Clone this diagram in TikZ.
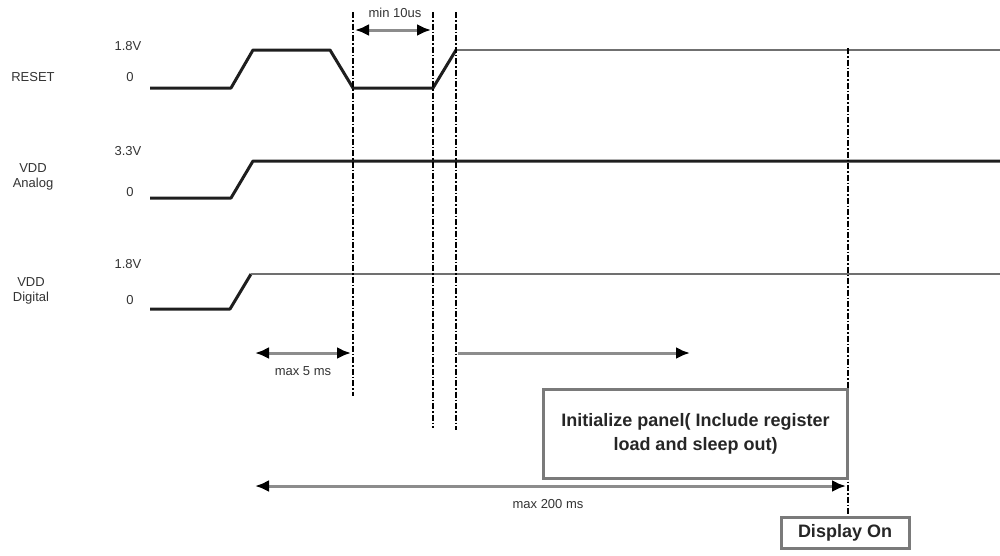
\documentclass[tikz,border=0pt]{standalone}
\usepackage{fontspec}
\setmainfont{Liberation Sans}
\usetikzlibrary{arrows.meta}
\definecolor{wave}{HTML}{1E1E1E}
\definecolor{gline}{HTML}{8C8C8C}
\definecolor{bord}{HTML}{7A7A7A}
\tikzset{
  wavel/.style={draw=wave,line width=3pt,line join=round},
  waveg/.style={draw=gline!80!black,line width=2.2pt},
  vguide/.style={draw=black,line width=1.1pt,dash pattern=on 6pt off 2pt on 1.5pt off 2pt},
  lbl/.style={font=\fontsize{13}{13}\selectfont,text=black!80,inner sep=0pt},
  tipd/.style={-{Latex[color=black,length=14pt,width=12pt]}},
  tipdd/.style={{Latex[color=black,length=14pt,width=12pt]}-{Latex[color=black,length=14pt,width=12pt]}},
  meas/.style={draw=gline,line width=3pt},
  panelbox/.style={draw=bord,line width=3pt,fill=white,inner sep=0pt,
    font=\bfseries\fontsize{18}{24}\selectfont,align=center,text=black!85},
}
\begin{document}
\begin{tikzpicture}[x=1pt,y=-1pt]
\useasboundingbox (0,0) rectangle (1000,555);

% signal names
\node[lbl] (nreset) at (33,77) {RESET};
\node[lbl,align=center] (nana) at (33,177) {VDD\\[2pt]Analog};
\node[lbl,align=center] (ndig) at (31,291) {VDD\\[2pt]Digital};
% levels
\node[lbl] (v1h) at (128,46) {1.8V};
\node[lbl] (v1l) at (130,77) {0};
\node[lbl] (v2h) at (128,151) {3.3V};
\node[lbl] (v2l) at (130,192) {0};
\node[lbl] (v3h) at (128,264) {1.8V};
\node[lbl] (v3l) at (130,300) {0};

% waveforms
\draw[wavel] (150,88) -- (231,88) -- (253,50) -- (330,50) -- (353,88) -- (433,88) -- (456,50);
\draw[waveg] (456,50) -- (1000,50);
\draw[wavel] (150,198) -- (231,198) -- (253,161) -- (1000,161);
\draw[wavel] (150,309) -- (230,309) -- (251,274);
\draw[waveg] (251,274) -- (1000,274);

% guide lines
\coordinate (g1t) at (353,12); \coordinate (g1b) at (353,396);
\coordinate (g2t) at (433,12); \coordinate (g2b) at (433,428);
\coordinate (g3t) at (456,12); \coordinate (g3b) at (456,430);
\coordinate (g4t) at (848,48); \coordinate (g4b) at (848,517);
\draw[vguide] (g1t) -- (g1b);
\draw[vguide] (g2t) -- (g2b);
\draw[vguide] (g3t) -- (g3b);
\draw[vguide] (g4t) -- (g4b);

% min arrow at top
\coordinate (a1l) at (355,30); \coordinate (a1r) at (431,30);
\draw[meas,tipdd] (a1l) -- (a1r);
\node[lbl] (tmin) at (395,13) {min 10us};

% max 5 ms
\coordinate (a2l) at (255,353); \coordinate (a2r) at (351,353);
\draw[meas,tipdd] (a2l) -- (a2r);
\node[lbl] (t5) at (303,371) {max 5 ms};

% init arrow
\coordinate (a3l) at (458,353); \coordinate (a3r) at (690,353);
\draw[meas,tipd] (a3l) -- (a3r);

% panel box
\node[panelbox,minimum width=304pt,minimum height=89pt] (init) at (695.5,433.5)
  {Initialize panel( Include register\\load and sleep out)};

% max 200 ms
\coordinate (a4l) at (255,486); \coordinate (a4r) at (846,486);
\draw[meas,tipdd] (a4l) -- (a4r);
\node[lbl] (t200) at (548,504) {max 200 ms};

% display on
\node[panelbox,minimum width=128pt,minimum height=31pt] (don) at (845,533) {Display On};
\end{tikzpicture}
\end{document}
